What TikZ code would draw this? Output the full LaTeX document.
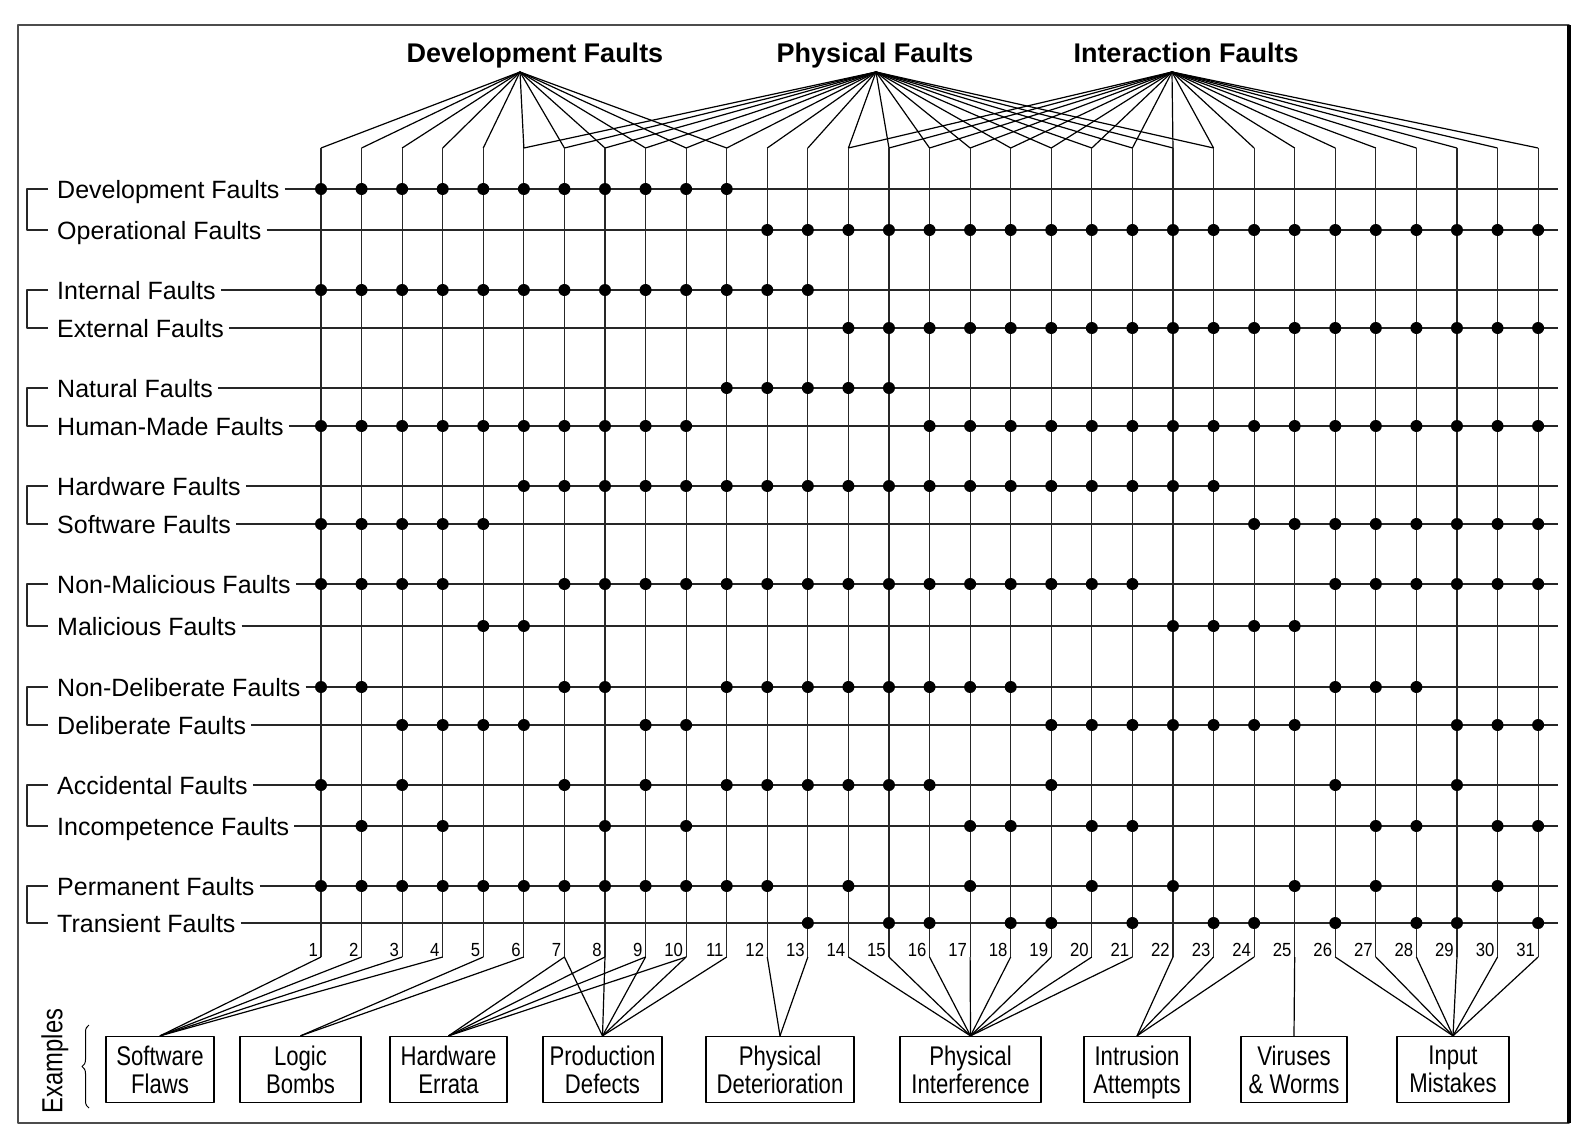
\documentclass[tikz,border=0pt]{standalone}
\usepackage{fontspec}
\setmainfont{Liberation Sans}
\newfontfamily\narrowfont[FakeStretch=0.82]{Liberation Sans}
\newfontfamily\numfont[FakeStretch=0.88]{Liberation Sans}
\usetikzlibrary{decorations.pathreplacing}

\tikzset{
  rowlabel/.style={font=\fontsize{25}{30}\selectfont, anchor=west, inner sep=0pt, text height=18pt, text depth=0pt},
  rowline/.style={line width=1.2pt, black!85, shorten <=5pt},
  colline/.style={line width=1.2pt, black!85},
  fanline/.style={line width=1.2pt},
  pairbracket/.style={line width=1.1pt, black!85},
  header/.style={font=\fontsize{27}{32}\selectfont\bfseries, anchor=base, inner sep=0pt},
  exbox/.style={draw, line width=1.3pt, font=\narrowfont\fontsize{27}{28}\selectfont, align=center,
    minimum height=66pt, inner sep=0pt},
  colnum/.style={font=\numfont\fontsize{19}{21}\selectfont, anchor=base east, inner sep=0pt},
}

\begin{document}
\begin{tikzpicture}[x=1pt, y=-1pt, line join=round]
  \useasboundingbox (0,0) rectangle (1584,1143);
  % frame
  \draw[line width=2.5pt, black!70] (18,25) rectangle (1569,1123);
  \draw[line width=3.5pt] (1569,25) -- (1569,1123);

  % headers
  \node[header] (devhead) at (535,62) {Development Faults};
  \node[header] (phyhead) at (875,62) {Physical Faults};
  \node[header] (inthead) at (1186,62) {Interaction Faults};
  \coordinate (devapex) at (520,72);
  \coordinate (phyapex) at (876,72);
  \coordinate (intapex) at (1172,72);

  % column ends and numbers
  \foreach \c in {1,...,31} {
    \pgfmathsetmacro{\cx}{321+(\c-1)*40.57}
    \coordinate (top\c) at (\cx,148);
    \coordinate (bot\c) at (\cx,957);
    \node[colnum] (num\c) at (\cx-3,956) {\c};
  }

  % fans from the headers
  \foreach \c in {1,...,11} \draw[fanline] (devapex) -- (top\c);
  \foreach \c in {6,...,23} \draw[fanline] (phyapex) -- (top\c);
  \foreach \c in {14,...,31} \draw[fanline] (intapex) -- (top\c);
  \foreach \c in {1,...,31} \draw[colline] (top\c) -- (bot\c);

  % fault classes: name / text / y / columns with a dot
  \foreach \name/\txt/\y/\cols in {
      dev/Development Faults/189/{1,2,3,4,5,6,7,8,9,10,11},
      oper/Operational Faults/230/{12,13,14,15,16,17,18,19,20,21,22,23,24,25,26,27,28,29,30,31},
      int/Internal Faults/290/{1,2,3,4,5,6,7,8,9,10,11,12,13},
      ext/External Faults/328/{14,15,16,17,18,19,20,21,22,23,24,25,26,27,28,29,30,31},
      nat/Natural Faults/388/{11,12,13,14,15},
      hum/Human-Made Faults/426/{1,2,3,4,5,6,7,8,9,10,16,17,18,19,20,21,22,23,24,25,26,27,28,29,30,31},
      hw/Hardware Faults/486/{6,7,8,9,10,11,12,13,14,15,16,17,18,19,20,21,22,23},
      sw/Software Faults/524/{1,2,3,4,5,24,25,26,27,28,29,30,31},
      nonmal/Non-Malicious Faults/584/{1,2,3,4,7,8,9,10,11,12,13,14,15,16,17,18,19,20,21,26,27,28,29,30,31},
      mal/Malicious Faults/626/{5,6,22,23,24,25},
      nondel/Non-Deliberate Faults/687/{1,2,7,8,11,12,13,14,15,16,17,18,26,27,28},
      del/Deliberate Faults/725/{3,4,5,6,9,10,19,20,21,22,23,24,25,29,30,31},
      acc/Accidental Faults/785/{1,3,7,9,11,12,13,14,15,16,19,26,29},
      inc/Incompetence Faults/826/{2,4,8,10,17,18,20,21,27,28,30,31},
      perm/Permanent Faults/886/{1,2,3,4,5,6,7,8,9,10,11,12,14,17,20,22,25,27,30},
      trans/Transient Faults/923/{13,15,16,18,19,21,23,24,26,28,29,31}} {
    \node[rowlabel] (\name) at (57,\y) {\txt};
    \coordinate (\name-end) at (1558,\y);
    \draw[rowline] (\name.east) -- (\name-end);
    \foreach \c in \cols \fill (top\c |- \name-end) circle (6pt);
  }

  % pair brackets
  \foreach \a/\b in {dev/oper, int/ext, nat/hum, hw/sw, nonmal/mal, nondel/del, acc/inc, perm/trans}
    \draw[pairbracket] ([xshift=-9pt]\a.west) -- ++(-21pt,0) |- ([xshift=-9pt]\b.west);

  % examples
  \node[font=\narrowfont\fontsize{29}{30}\selectfont, rotate=90] (examples) at (55,1061) {Examples};
  \draw[decorate, decoration={brace, amplitude=7pt}, line width=1pt] (89,1108) -- (89,1025);
  \node[exbox, minimum width=108pt] (flaws) at (160,1069.5) {Software\\Flaws};
  \node[exbox, minimum width=121pt] (bombs) at (300.5,1069.5) {Logic\\Bombs};
  \node[exbox, minimum width=117pt] (errata) at (448.5,1069.5) {Hardware\\Errata};
  \node[exbox, minimum width=119pt] (defects) at (602.5,1069.5) {Production\\Defects};
  \node[exbox, minimum width=148pt] (deterior) at (780,1069.5) {Physical\\Deterioration};
  \node[exbox, minimum width=141pt] (interf) at (970.5,1069.5) {Physical\\Interference};
  \node[exbox, minimum width=106pt] (intrusion) at (1137,1069.5) {Intrusion\\Attem\smash{p}ts};
  \node[exbox, minimum width=106pt] (viruses) at (1294,1069.5) {Viruses\\\& Worms};
  \node[exbox, minimum width=112pt] (mistakes) at (1453,1069.5) {Input\\Mistakes};

  \foreach \c/\ex in {1/flaws, 2/flaws, 3/flaws, 4/flaws, 5/bombs, 6/bombs,
      7/errata, 8/errata, 9/errata, 10/errata,
      7/defects, 8/defects, 9/defects, 10/defects, 11/defects,
      12/deterior, 13/deterior,
      14/interf, 15/interf, 16/interf, 17/interf, 18/interf, 19/interf, 20/interf, 21/interf,
      22/intrusion, 23/intrusion, 24/intrusion, 25/viruses,
      26/mistakes, 27/mistakes, 28/mistakes, 29/mistakes, 30/mistakes, 31/mistakes}
    \draw[fanline] (bot\c) -- (\ex.north);
\end{tikzpicture}
\end{document}
